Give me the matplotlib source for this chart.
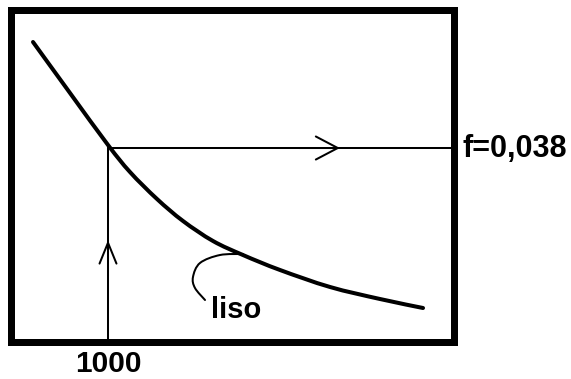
import matplotlib
matplotlib.use("Agg")
import matplotlib.pyplot as plt
from matplotlib.patches import FancyArrowPatch, PathPatch
from matplotlib.path import Path

# Smooth-pipe friction curve (sketch, axes units 0-100)
curve_x = [5.07, 13.40, 21.96, 26.91, 33.00, 38.85, 45.61, 52.36, 60.70,
           71.96, 83.22, 92.91]
curve_y = [90.36, 75.00, 59.34, 51.20, 43.07, 36.45, 30.42, 26.20, 21.69,
           16.57, 12.95, 10.24]

# Reading point: Re = 1000 -> f = 0.038
re_pos = 21.96
f_pos = 58.43
re_label = "1000"
f_label = "f=0,038"

# Leader for the "liso" label
leader_x = [52.36, 47.18, 42.68, 41.10, 41.55, 43.81]
leader_y = [26.51, 26.20, 23.80, 19.58, 16.27, 12.65]
curve_label = "liso"


def smooth_path(xs, ys):
    """Catmull-Rom spline through the given points as a cubic Bezier path."""
    pts = list(zip(xs, ys))
    n = len(pts)
    verts = [pts[0]]
    codes = [Path.MOVETO]
    for i in range(n - 1):
        p0 = pts[i - 1] if i > 0 else pts[i]
        p1 = pts[i]
        p2 = pts[i + 1]
        p3 = pts[i + 2] if i + 2 < n else pts[i + 1]
        c1 = (p1[0] + (p2[0] - p0[0]) / 6, p1[1] + (p2[1] - p0[1]) / 6)
        c2 = (p2[0] - (p3[0] - p1[0]) / 6, p2[1] - (p3[1] - p1[1]) / 6)
        verts += [c1, c2, p2]
        codes += [Path.CURVE4] * 3
    return Path(verts, codes)


fig = plt.figure(figsize=(5.71, 3.79), dpi=100)
ax = fig.add_axes([10.5 / 571, 37 / 379, 444 / 571, 332 / 379])
ax.set_xlim(0, 100)
ax.set_ylim(0, 100)
ax.set_xticks([])
ax.set_yticks([])
for s in ax.spines.values():
    s.set_linewidth(5.04)
    s.set_color("black")

font = dict(family=["Liberation Sans", "DejaVu Sans"], weight="bold", color="black")

# curve
ax.add_patch(PathPatch(smooth_path(curve_x, curve_y), fill=False, edgecolor="black",
                       lw=2.9, capstyle="round", joinstyle="round"))

# vertical reading line with arrow
ax.plot([re_pos, re_pos], [0, f_pos], color="black", lw=1.45)
ax.add_patch(FancyArrowPatch((re_pos, 20), (re_pos, 30.7),
                             arrowstyle="->,head_length=15,head_width=6.1",
                             mutation_scale=1, lw=1.45, color="black",
                             shrinkA=0, shrinkB=0))
# horizontal reading line with arrow
ax.plot([re_pos, 100], [f_pos, f_pos], color="black", lw=1.45, clip_on=False)
ax.add_patch(FancyArrowPatch((65, f_pos), (74.2, f_pos),
                             arrowstyle="->,head_length=15.8,head_width=8.3",
                             mutation_scale=1, lw=1.45, color="black",
                             shrinkA=0, shrinkB=0))

# leader
ax.add_patch(PathPatch(smooth_path(leader_x, leader_y), fill=False, edgecolor="black",
                       lw=1.45, capstyle="round", joinstyle="round"))

ax.text(50.79, 7.23, curve_label, ha="center", va="baseline", fontsize=21, **font)
ax.text(re_pos, -9.0, re_label, ha="center", va="baseline", fontsize=21.5,
        clip_on=False, **font)
ax.text(101.69, 55.72, f_label, ha="left", va="baseline", fontsize=22,
        clip_on=False, **font)

fig.savefig("out.png", dpi=100)
